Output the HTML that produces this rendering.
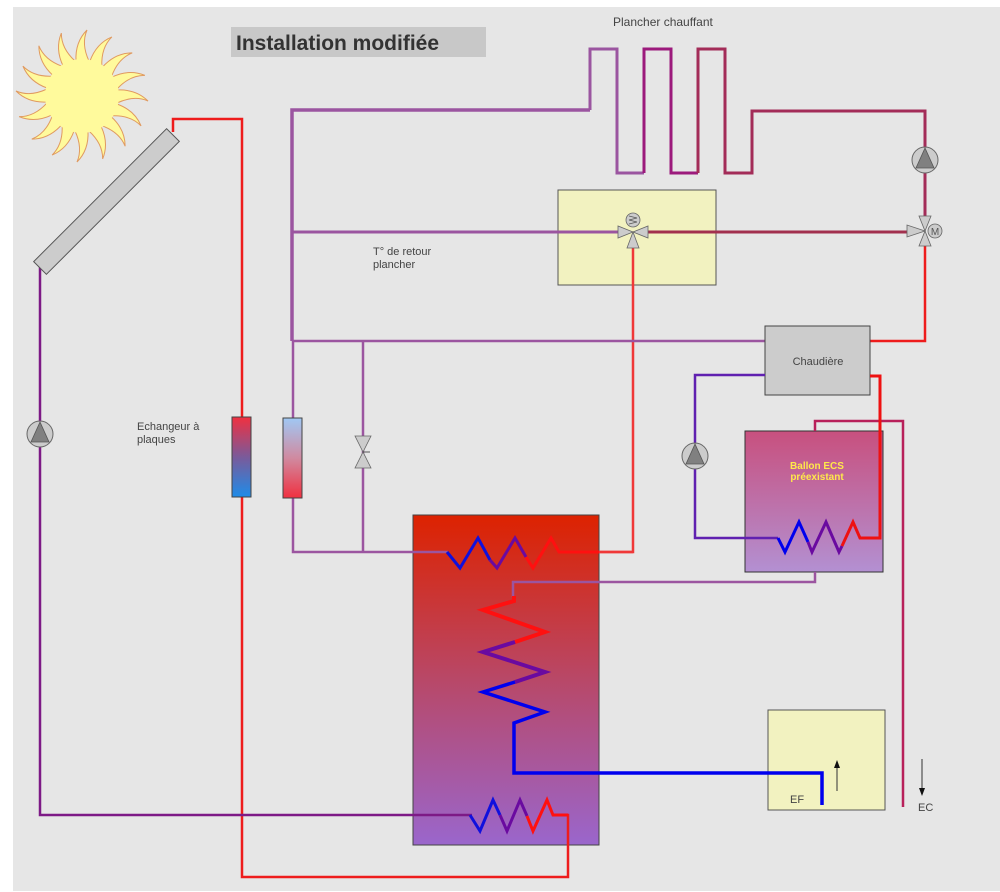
<!DOCTYPE html>
<html><head><meta charset="utf-8"><style>
html,body{margin:0;padding:0;background:#fff;}
svg{display:block;}
text{font-family:"Liberation Sans",sans-serif;}
</style></head><body>
<svg width="1000" height="892" viewBox="0 0 1000 892" xmlns="http://www.w3.org/2000/svg">
<defs>
<linearGradient id="tank" x1="0" y1="0" x2="0" y2="1">
<stop offset="0" stop-color="#dd2200"/><stop offset="0.5" stop-color="#b84868"/><stop offset="1" stop-color="#9a66cc"/>
</linearGradient>
<linearGradient id="ballon" x1="0" y1="0" x2="0" y2="1">
<stop offset="0" stop-color="#c8507e"/><stop offset="1" stop-color="#b390d2"/>
</linearGradient>
<linearGradient id="pl1" x1="0" y1="0" x2="0" y2="1">
<stop offset="0" stop-color="#f03040"/><stop offset="0.5" stop-color="#7a5a9a"/><stop offset="1" stop-color="#1e8ce8"/>
</linearGradient>
<linearGradient id="pl2" x1="0" y1="0" x2="0" y2="1">
<stop offset="0" stop-color="#a0c8f4"/><stop offset="0.5" stop-color="#d08aa0"/><stop offset="1" stop-color="#f03040"/>
</linearGradient>
<path id="ray" d="M -6,-35 Q -7,-54 5,-66 Q -1,-52 7,-35 Z" fill="#fffa9c" stroke="#e09a60" stroke-width="1"/>
<g id="pump">
<circle r="13" fill="#cccccc" stroke="#666" stroke-width="1"/>
<path d="M0,-12 L-9,8 L9,8 Z" fill="#808080" stroke="#555" stroke-width="0.8"/>
</g>
</defs>

<rect x="13" y="7" width="987" height="884" fill="#e6e6e6"/>

<!-- title -->
<rect x="231" y="27" width="255" height="30" fill="#c8c8c8"/>
<text x="236" y="50" font-size="21" font-weight="bold" fill="#333">Installation modifiée</text>

<!-- sun -->
<g transform="translate(82,96)">
<use href="#ray" transform="rotate(0)"/><use href="#ray" transform="rotate(22.5)"/>
<use href="#ray" transform="rotate(45)"/><use href="#ray" transform="rotate(67.5)"/>
<use href="#ray" transform="rotate(90)"/><use href="#ray" transform="rotate(112.5)"/>
<use href="#ray" transform="rotate(135)"/><use href="#ray" transform="rotate(157.5)"/>
<use href="#ray" transform="rotate(180)"/><use href="#ray" transform="rotate(202.5)"/>
<use href="#ray" transform="rotate(225)"/><use href="#ray" transform="rotate(247.5)"/>
<use href="#ray" transform="rotate(270)"/><use href="#ray" transform="rotate(292.5)"/>
<use href="#ray" transform="rotate(315)"/><use href="#ray" transform="rotate(337.5)"/>
<circle r="37" fill="#fffa9c"/>
</g>

<!-- boxes first -->
<rect x="558" y="190" width="158" height="95" fill="#f2f2c0" stroke="#555" stroke-width="1"/>
<rect x="413" y="515" width="186" height="330" fill="url(#tank)" stroke="#444" stroke-width="1"/>
<rect x="745" y="431" width="138" height="141" fill="url(#ballon)" stroke="#333" stroke-width="1"/>
<rect x="768" y="710" width="117" height="100" fill="#f2f2c0" stroke="#555" stroke-width="1"/>

<!-- solar red loop -->
<polyline points="173,132 173,119 242,119 242,877 568,877 568,815 553,815" fill="none" stroke="#ee1c1c" stroke-width="2.5"/>
<!-- solar purple loop -->
<polyline points="40,266 40,815 472,815" fill="none" stroke="#7d1a86" stroke-width="2.5"/>

<!-- panel -->
<g transform="translate(106.5,201.5) rotate(-45)">
<rect x="-94" y="-9" width="188" height="18" fill="#cccccc" stroke="#555" stroke-width="1"/>
</g>

<use href="#pump" x="40" y="434"/>

<!-- echangeur -->
<rect x="232" y="417" width="19" height="80" fill="url(#pl1)" stroke="#444" stroke-width="1"/>
<text x="137" y="430" font-size="11" fill="#444">Echangeur à</text>
<text x="137" y="443" font-size="11" fill="#444">plaques</text>

<!-- plancher purple network -->
<polyline points="292,341 292,110 590,110" fill="none" stroke="#9b55a0" stroke-width="3.5"/>
<polyline points="590,110 590,49 617,49 617,173 644,173" fill="none" stroke="#9b55a0" stroke-width="3"/>
<polyline points="644,173 644,49 671,49 671,173 698,173" fill="none" stroke="#9c1a7c" stroke-width="3"/>
<polyline points="698,173 698,49 725,49 725,173 752,173 752,111 925,111 925,150" fill="none" stroke="#a32c58" stroke-width="3"/>
<line x1="925" y1="170" x2="925" y2="220" stroke="#a32c58" stroke-width="3"/>
<text x="613" y="26" font-size="12" fill="#444">Plancher chauffant</text>

<!-- y=232 line -->
<line x1="292" y1="232" x2="620" y2="232" stroke="#9b55a0" stroke-width="3"/>
<line x1="646" y1="232" x2="910" y2="232" stroke="#a2304e" stroke-width="3"/>

<!-- red from mixing valve -->
<polyline points="633,242 633,552 563,552" fill="none" stroke="#f03838" stroke-width="2.5"/>
<!-- red from M valve to chaudiere -->
<polyline points="925,242 925,341 870,341" fill="none" stroke="#ee1c1c" stroke-width="2.5"/>

<!-- mixing valve -->
<g stroke="#666" stroke-width="0.8" fill="#cccccc">
<path d="M618,226 L618,238 L633,232 Z"/>
<path d="M648,226 L648,238 L633,232 Z"/>
<path d="M627,248 L639,248 L633,232 Z"/>
<circle cx="633" cy="220" r="7"/>
</g>
<path d="M629,216 L637,218 L629,220 L637,222 L629,224" fill="none" stroke="#555" stroke-width="0.8"/>

<!-- M valve -->
<g stroke="#666" stroke-width="0.8" fill="#cccccc">
<path d="M919,216 L931,216 L925,231 Z"/>
<path d="M919,246 L931,246 L925,231 Z"/>
<path d="M907,225 L907,237 L925,231 Z"/>
<circle cx="935" cy="231" r="7"/>
</g>
<text x="935" y="235" font-size="10" fill="#555" text-anchor="middle">M</text>

<use href="#pump" x="925" y="160"/>

<text x="373" y="255" font-size="11" fill="#444">T° de retour</text>
<text x="373" y="268" font-size="11" fill="#444">plancher</text>

<!-- y=341 purple -->
<line x1="292" y1="341" x2="765" y2="341" stroke="#9b55a0" stroke-width="2.5"/>
<polyline points="293,341 293,418" fill="none" stroke="#9b55a0" stroke-width="2.5"/>
<polyline points="293,498 293,552 448,552" fill="none" stroke="#9b55a0" stroke-width="2.5"/>
<line x1="363" y1="341" x2="363" y2="552" stroke="#9b55a0" stroke-width="2.5"/>
<rect x="283" y="418" width="19" height="80" fill="url(#pl2)" stroke="#444" stroke-width="1"/>
<g stroke="#666" stroke-width="0.8" fill="#cccccc">
<path d="M355,436 L371,436 L363,452 Z"/>
<path d="M355,468 L371,468 L363,452 Z"/>
</g>
<line x1="363" y1="452" x2="370" y2="452" stroke="#555" stroke-width="1"/>

<!-- chaudiere -->
<rect x="765" y="326" width="105" height="69" fill="#cccccc" stroke="#444" stroke-width="1"/>
<text x="818" y="365" font-size="11" fill="#444" text-anchor="middle">Chaudière</text>

<!-- chaudiere -> ballon loop -->
<polyline points="765,375 695,375 695,538 778,538" fill="none" stroke="#6020b0" stroke-width="2.5"/>
<use href="#pump" x="695" y="456"/>

<!-- EC line -->
<polyline points="815,431 815,421 903,421 903,807" fill="none" stroke="#b8205a" stroke-width="2.5"/>

<!-- ballon text + coil -->
<text x="817" y="469" font-size="10" font-weight="bold" fill="#ffe94a" text-anchor="middle">Ballon ECS</text>
<text x="817" y="480" font-size="10" font-weight="bold" fill="#ffe94a" text-anchor="middle">préexistant</text>
<polyline points="778,538 785,552 799,522 808,542" fill="none" stroke="#0000ee" stroke-width="3"/>
<polyline points="808,542 812,552 826,522 839,552 842,546" fill="none" stroke="#6a0aa0" stroke-width="3"/>
<polyline points="842,546 853,522 860,538 880,538 880,376 870,376" fill="none" stroke="#ee1111" stroke-width="3"/>

<!-- ballon -> middle coil purple -->
<polyline points="815,572 815,582 513,582 513,597" fill="none" stroke="#9b55a0" stroke-width="2.5"/>

<!-- top coil -->
<polyline points="447,552 460,568 478,538 490,560" fill="none" stroke="#1010dd" stroke-width="3"/>
<polyline points="490,560 497,568 515,538 526,557" fill="none" stroke="#6a0aa0" stroke-width="3"/>
<polyline points="526,557 533,568 551,538 559,552 599,552" fill="none" stroke="#ff1010" stroke-width="3"/>
<line x1="599" y1="552" x2="633" y2="552" stroke="#f03838" stroke-width="2.5"/>

<!-- middle coil -->
<polyline points="514,596 514,601 483,610 545,632 515,642" fill="none" stroke="#ff1010" stroke-width="4"/>
<polyline points="515,642 483,652 545,672 515,682" fill="none" stroke="#6a0aa0" stroke-width="4"/>
<polyline points="515,682 483,692 545,712 514,723 514,773 822,773 822,805" fill="none" stroke="#0000ee" stroke-width="3.5"/>

<!-- bottom coil -->
<polyline points="470,815 480,831 493,800 500,815" fill="none" stroke="#1010dd" stroke-width="3"/>
<polyline points="500,815 507,831 520,800 527,816" fill="none" stroke="#6a0aa0" stroke-width="3"/>
<polyline points="527,816 533,831 547,800 553,815 568,815" fill="none" stroke="#ff1010" stroke-width="3"/>

<!-- EF -->
<line x1="837" y1="791" x2="837" y2="766" stroke="#333" stroke-width="1"/>
<path d="M837,760 L834,768 L840,768 Z" fill="#111"/>
<text x="790" y="803" font-size="11" fill="#444">EF</text>

<line x1="922" y1="759" x2="922" y2="789" stroke="#333" stroke-width="1"/>
<path d="M922,796 L919,788 L925,788 Z" fill="#111"/>
<text x="918" y="811" font-size="11" fill="#444">EC</text>
</svg>
</body></html>
